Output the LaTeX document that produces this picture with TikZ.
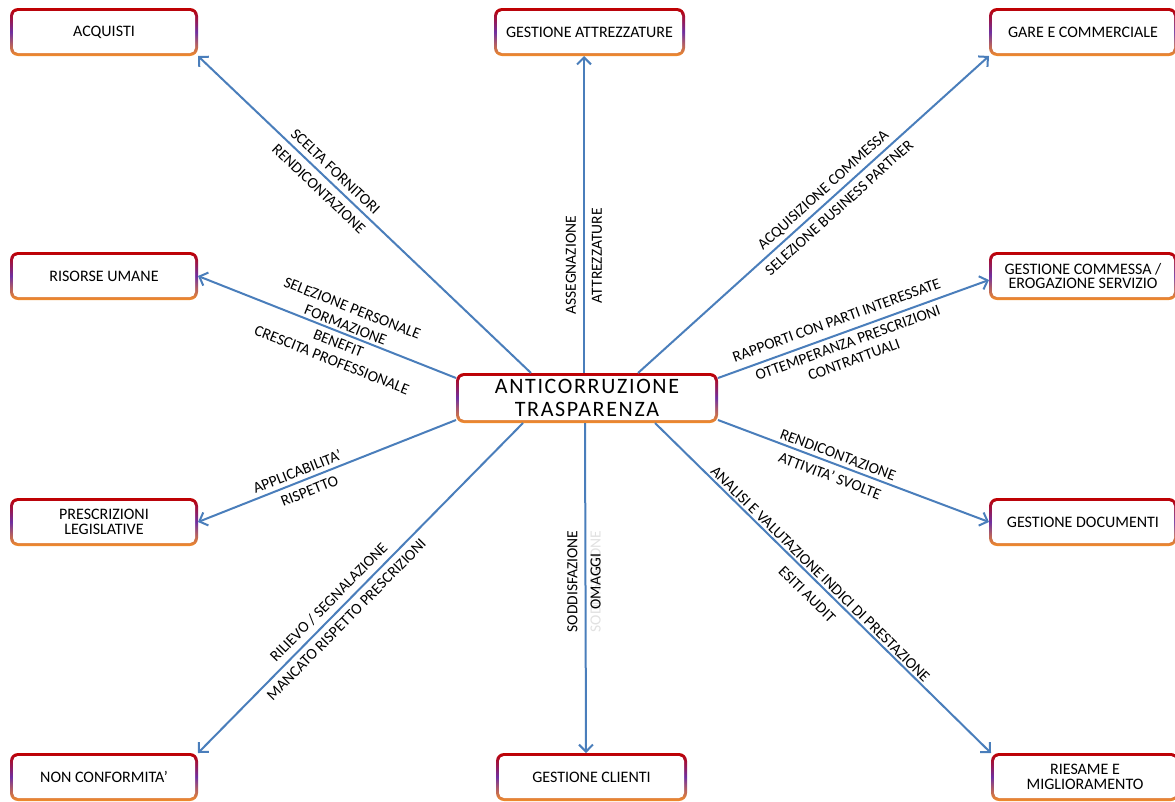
\documentclass[tikz,border=0pt]{standalone}
\usepackage{fontspec}
\setmainfont{Carlito}
\newfontfamily\titlefont[LetterSpace=7.5]{Carlito}
\usetikzlibrary{arrows.meta}
\definecolor{linkblue}{RGB}{74,126,187}
\definecolor{bordertop}{RGB}{192,0,0}
\definecolor{bordermid}{RGB}{112,48,160}
\definecolor{borderbot}{RGB}{242,140,40}
\definecolor{ghostgray}{RGB}{225,225,225}
\tikzstyle{area}=[rounded corners=8pt, minimum width=188pt, minimum height=48pt, inner sep=2pt, outer sep=0pt, align=center, font=\fontsize{16}{14.5}\selectfont, top color=bordertop, bottom color=borderbot, middle color=bordermid, path picture={\fill[white, rounded corners=5pt] ([shift={(3pt,-3pt)}]path picture bounding box.north west) rectangle ([shift={(-3pt,3pt)}]path picture bounding box.south east);}]
\tikzstyle{link}=[linkblue, line width=2pt, -{Straight Barb[length=7pt,width=14pt]}]
\tikzstyle{lbl}=[font=\fontsize{15.5}{18}\selectfont, inner sep=1pt, align=center, text=black]

\begin{document}
\begin{tikzpicture}[x=1pt,y=-1pt]
\useasboundingbox (0,0) rectangle (1175,801);
% areas
\node[area] (acq) at (104,32) {ACQUISTI};
\node[area, minimum width=191pt] (attr) at (589.5,32) {GESTIONE ATTREZZATURE};
\node[area] (gare) at (1083,32) {GARE E COMMERCIALE};
\node[area] (ris) at (104,276) {RISORSE UMANE};
\node[area] (comm) at (1083,276) {GESTIONE COMMESSA /\\EROGAZIONE SERVIZIO};
\node[area] (presc) at (104,522) {PRESCRIZIONI\\LEGISLATIVE};
\node[area] (doc) at (1083,522) {GESTIONE DOCUMENTI};
\node[area] (nonc) at (104,777) {NON CONFORMITA'};
\node[area, minimum width=191pt] (cli) at (591.5,777) {GESTIONE CLIENTI};
\node[area] (ries) at (1085,777) {RIESAME E\\MIGLIORAMENTO};
\node[area, minimum width=262pt, minimum height=50pt, font=\titlefont\fontsize{22}{23}\selectfont] (core) at (587,398) {ANTICORRUZIONE\\TRASPARENZA};

% links
\draw[link] ([xshift=-56pt]core.north) -- node[lbl, pos=0.61, sloped, above, outer sep=5pt] {SCELTA FORNITORI} node[lbl, pos=0.61, sloped, below, outer sep=7pt] {RENDICONTAZIONE} (acq.south east);
\draw[link] ([xshift=-3pt]core.north) -- node[lbl, pos=0.34, rotate=90, above, outer sep=7pt] {ASSEGNAZIONE} node[lbl, pos=0.37, rotate=90, below, outer sep=7pt] {ATTREZZATURE} ([xshift=-5.5pt]attr.south);
\draw[link] ([xshift=51pt]core.north) -- node[lbl, pos=0.55, sloped, above, outer sep=4pt] {ACQUISIZIONE COMMESSA} node[lbl, pos=0.55, sloped, below, outer sep=6pt] {SELEZIONE BUSINESS PARTNER} (gare.south west);
\draw[link] ([yshift=20pt]core.west) -- node[lbl, pos=0.44, sloped, above, outer sep=2.5pt] {SELEZIONE PERSONALE\\FORMAZIONE} node[lbl, pos=0.44, sloped, below, outer sep=5pt] {BENEFIT\\CRESCITA PROFESSIONALE} (ris.east);
\draw[link] ([yshift=20pt]core.east) -- node[lbl, pos=0.455, sloped, above, outer sep=8pt] {RAPPORTI CON PARTI INTERESSATE} node[lbl, pos=0.465, sloped, below, outer sep=5pt] {OTTEMPERANZA PRESCRIZIONI\\CONTRATTUALI} ([yshift=-4pt]comm.west);
\draw[link] ([yshift=-22pt]core.west) -- node[lbl, pos=0.6, sloped, above, outer sep=4pt] {APPLICABILITA'} node[lbl, pos=0.585, sloped, below, outer sep=6pt] {RISPETTO} (presc.east);
\draw[link] ([yshift=-22pt]core.east) -- node[lbl, pos=0.43, sloped, above, outer sep=3.5pt] {RENDICONTAZIONE} node[lbl, pos=0.43, sloped, below, outer sep=6pt] {ATTIVITA' SVOLTE} (doc.west);
\draw[link] ([xshift=-64pt]core.south) -- node[lbl, pos=0.57, sloped, above, outer sep=6pt] {RILIEVO / SEGNALAZIONE} node[lbl, pos=0.57, sloped, below, outer sep=6pt] {MANCATO RISPETTO PRESCRIZIONI} (nonc.north east);
\draw[link] ([xshift=-2pt]core.south) -- node[lbl, pos=0.48, rotate=90, above, outer sep=7pt] {SODDISFAZIONE} node[lbl, pos=0.48, rotate=90, below, outer sep=4pt, text=ghostgray] {SODDISFAZIONE} node[lbl, pos=0.48, rotate=90, below, outer sep=4pt] {OMAGGI} ([xshift=-5.5pt]cli.north);
\draw[link] ([xshift=68pt]core.south) -- node[lbl, pos=0.475, sloped, above, outer sep=2pt] {ANALISI E VALUTAZIONE INDICI DI PRESTAZIONE} node[lbl, pos=0.485, sloped, below, outer sep=9.5pt] {ESITI AUDIT} (ries.north west);
\end{tikzpicture}
\end{document}
